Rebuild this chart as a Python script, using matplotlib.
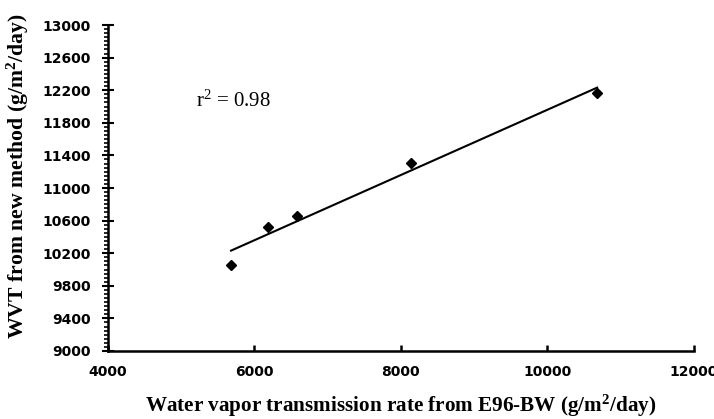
import numpy as np
import matplotlib
matplotlib.use("Agg")
import matplotlib.pyplot as plt
from matplotlib.ticker import MultipleLocator

# values
e96_bw = [5685, 6190, 6585, 8140, 10678]
new_method = [10055, 10520, 10656, 11307, 12166]
r2_label = "r$^2$ = 0.98"

x_ticks = [4000, 6000, 8000, 10000, 12000]
y_ticks = [9000, 9400, 9800, 10200, 10600, 11000, 11400, 11800, 12200, 12600, 13000]

plt.rcParams["font.family"] = "DejaVu Sans"
plt.rcParams["font.weight"] = "bold"
plt.rcParams["font.size"] = 10
plt.rcParams["mathtext.fontset"] = "custom"
plt.rcParams["mathtext.rm"] = "Liberation Serif"
plt.rcParams["mathtext.bf"] = "Liberation Serif:bold"
plt.rcParams["mathtext.default"] = "regular"

x = np.array(e96_bw)
y = np.array(new_method)
slope, intercept = np.polyfit(x, y, 1)
xfit = np.array([x.min(), x.max()])

fig = plt.figure(figsize=(7.14, 4.19), dpi=100)
ax = fig.add_axes([0.1506, 0.1623, 0.8214, 0.778])

ax.plot(xfit, slope * xfit + intercept, color="black", linewidth=1.5)
ax.plot(x, y, linestyle="none", marker="D", markersize=5, color="black")

ax.set_xlim(4000, 12000)
ax.set_ylim(9000, 13000)
ax.set_xticks(x_ticks)
ax.set_yticks(y_ticks)
ax.yaxis.set_minor_locator(MultipleLocator(50))

for side in ["top", "right"]:
    ax.spines[side].set_visible(False)
for side in ["left", "bottom"]:
    ax.spines[side].set_linewidth(1.8)

ax.tick_params(axis="x", direction="in", length=4, width=1.8, pad=10)
ax.tick_params(axis="y", which="major", direction="inout", length=8, width=1.5, pad=8)
ax.tick_params(axis="y", which="minor", direction="out", length=3, width=1.2)

label_font = dict(family="Liberation Serif", weight="bold")
ax.set_xlabel("Water vapor transmission rate from E96-BW (g/m$^2$/day)", labelpad=10, size=15.2, **label_font)
ax.set_ylabel("WVT from new method (g/m$^2$/day)", size=15.7, **label_font)
ax.yaxis.set_label_coords(-0.131, 0.537)

ax.text(5200, 12000, r2_label, family="Liberation Serif", weight="normal", size=15)

fig.savefig("out.png", dpi=100)
